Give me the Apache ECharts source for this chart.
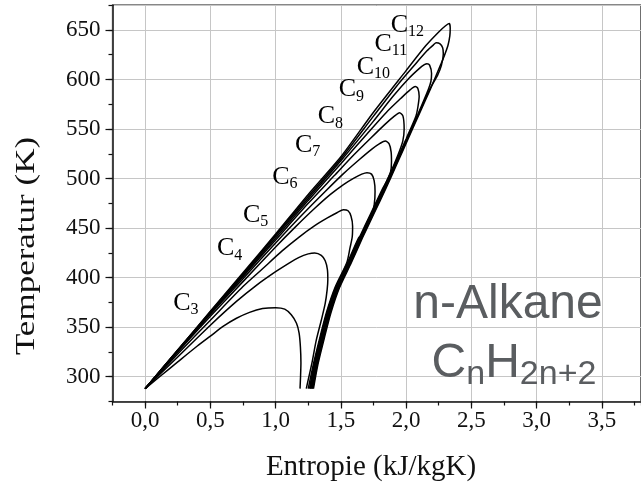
<!DOCTYPE html>
<html>
<head>
<meta charset="utf-8">
<title>n-Alkane T-s Diagramm</title>
<script src="https://cdn.jsdelivr.net/npm/echarts@6/dist/echarts.min.js"></script>
<style>
  html, body { margin: 0; padding: 0; background: #fff; }
  #chart { width: 641px; height: 489px; }
</style>
</head>
<body>
<div id="chart"></div>
<script>
// Nassdampfgebiet je Alkan: [Entropie kJ/kgK, Temperatur K]
// erst Siedelinie hoch bis zum kritischen Punkt, dann Taulinie wieder runter
var c3 = [[0, 288], [0.12, 301], [0.25, 315], [0.4, 331], [0.5, 341], [0.6, 351], [0.7, 359], [0.8, 365], [0.9, 368.8], [1.0, 369.7],
  [1.07, 368.2], [1.12, 362.5], [1.16, 354], [1.18, 344], [1.19, 330], [1.194, 314], [1.191, 300], [1.187, 288]];
var c4 = [[0, 288], [0.25, 320], [0.5, 352], [0.7, 376], [0.85, 392], [1.0, 406], [1.1, 414.5], [1.18, 420.5], [1.25, 424], [1.3, 425],
  [1.35, 422.5], [1.38, 417], [1.397, 408], [1.4, 398], [1.395, 388], [1.38, 374], [1.35, 357], [1.31, 336], [1.28, 315], [1.255, 300], [1.235, 288]];
var c5 = [[0, 288], [0.25, 323], [0.5, 357], [0.75, 391], [0.9, 409], [1.05, 427], [1.18, 441], [1.3, 452.5], [1.4, 460.5], [1.47, 465.5], [1.52, 468.5],
  [1.555, 467.5], [1.578, 462], [1.59, 452], [1.587, 441], [1.57, 430], [1.545, 415], [1.455, 390], [1.39, 365], [1.34, 340], [1.29, 313], [1.25, 288]];
var c6 = [[0, 288], [0.25, 325], [0.5, 361], [0.75, 396], [1.0, 431], [1.15, 451], [1.3, 470], [1.42, 484], [1.52, 494], [1.6, 500.5], [1.66, 504.5], [1.7, 506],
  [1.735, 504.5], [1.755, 498], [1.762, 487], [1.756, 474], [1.735, 462], [1.7, 452], [1.66, 443], [1.635, 440], [1.55, 415], [1.46, 390], [1.395, 365], [1.345, 340], [1.295, 313], [1.26, 288]];
var c7 = [[0, 288], [0.25, 325.5], [0.5, 363], [0.75, 399], [1.0, 435], [1.2, 463], [1.38, 487], [1.52, 505], [1.64, 519], [1.74, 530], [1.8, 535.5], [1.84, 538],
  [1.87, 535], [1.885, 527], [1.888, 517], [1.88, 506], [1.85, 497], [1.82, 490], [1.73, 465], [1.64, 440], [1.555, 415], [1.465, 390], [1.4, 365], [1.35, 340], [1.3, 313], [1.265, 288]];
var c8 = [[0, 288], [0.25, 326], [0.5, 364], [0.75, 401], [1.0, 438], [1.25, 475], [1.45, 503], [1.6, 524], [1.73, 541], [1.84, 555], [1.91, 563], [1.95, 566.5],
  [1.976, 563], [1.985, 550], [1.975, 538], [1.95, 528], [1.91, 515], [1.825, 490], [1.735, 465], [1.645, 440], [1.56, 415], [1.47, 390], [1.405, 365], [1.355, 340], [1.305, 313], [1.27, 288]];
var c9 = [[0, 288], [0.25, 326.5], [0.5, 364.5], [0.75, 402], [1.0, 440], [1.25, 478], [1.5, 515], [1.7, 545], [1.85, 567], [1.96, 581], [2.03, 589.5], [2.07, 593],
  [2.09, 591], [2.1, 583], [2.09, 572], [2.075, 563], [2.0, 540], [1.915, 515], [1.83, 490], [1.74, 465], [1.65, 440], [1.565, 415], [1.475, 390], [1.41, 365], [1.36, 340], [1.31, 313], [1.275, 288]];
var c10 = [[0, 288], [0.25, 326.5], [0.5, 365], [0.75, 403], [1.0, 442], [1.25, 480], [1.5, 518], [1.75, 558], [1.9, 583], [2.02, 601], [2.1, 611], [2.14, 615], [2.16, 616],
  [2.18, 614.5], [2.195, 606], [2.19, 598], [2.17, 590], [2.09, 565], [2.005, 540], [1.92, 515], [1.835, 490], [1.745, 465], [1.655, 440], [1.57, 415], [1.48, 390], [1.415, 365], [1.365, 340], [1.315, 313], [1.28, 288]];
var c11 = [[0, 288], [0.25, 327], [0.5, 365.5], [0.75, 404], [1.0, 443], [1.25, 482], [1.5, 520], [1.75, 563], [1.95, 597], [2.08, 617], [2.16, 629], [2.21, 635], [2.23, 637],
  [2.26, 636], [2.28, 632], [2.285, 626], [2.27, 614], [2.24, 604], [2.18, 590], [2.095, 565], [2.01, 540], [1.925, 515], [1.84, 490], [1.75, 465], [1.66, 440], [1.575, 415], [1.485, 390], [1.42, 365], [1.37, 340], [1.32, 313], [1.285, 288]];
var c12 = [[0, 288], [0.25, 327], [0.5, 366], [0.75, 405], [1.0, 444], [1.25, 484], [1.5, 522], [1.75, 567], [2.0, 609], [2.15, 634], [2.25, 648], [2.3, 654], [2.33, 656.5],
  [2.338, 652], [2.335, 644], [2.32, 634], [2.29, 623], [2.265, 615], [2.185, 590], [2.1, 565], [2.015, 540], [1.93, 515], [1.845, 490], [1.755, 465], [1.665, 440], [1.58, 415], [1.49, 390], [1.425, 365], [1.375, 340], [1.325, 313], [1.29, 288]];

var domes = [c3, c4, c5, c6, c7, c8, c9, c10, c11, c12];

// Beschriftung C_n, Lage in Diagrammkoordinaten (linke Kante vom "C")
var labelSub = ['3', '4', '5', '6', '7', '8', '9', '10', '11', '12'];
var labelS = [0.215, 0.551, 0.750, 0.974, 1.148, 1.322, 1.484, 1.621, 1.757, 1.882];
var labelT = [374.7, 429.6, 463.2, 501.9, 533.9, 562.5, 590.1, 612.9, 635.9, 655.1];

var serif = 'Liberation Serif, Times New Roman, serif';
var sans = 'Liberation Sans, Arial, sans-serif';

var chart = echarts.init(document.getElementById('chart'));

var series = domes.map(function (d, i) {
  return {
    name: 'C' + labelSub[i],
    type: 'line',
    data: d,
    smooth: 0.25,
    symbol: 'none',
    silent: true,
    lineStyle: { color: '#000', width: 1.5 },
    z: 3
  };
});

series.push({
  type: 'scatter',
  symbolSize: 0,
  silent: true,
  itemStyle: { opacity: 1, color: '#000' },
  data: labelS.map(function (s, i) { return [s, labelT[i], labelSub[i]]; }),
  label: {
    show: true,
    position: 'inside',
    align: 'left',
    verticalAlign: 'middle',
    color: '#000',
    opacity: 1,
    textBorderWidth: 0,
    formatter: function (p) { return '{c|C}{s|' + p.value[2] + '}'; },
    rich: {
      c: { fontFamily: serif, fontSize: 26, lineHeight: 30, color: '#000', textBorderWidth: 0 },
      s: { fontFamily: serif, fontSize: 16, lineHeight: 8, verticalAlign: 'bottom', color: '#000', textBorderWidth: 0 }
    }
  },
  z: 4
});

chart.setOption({
  animation: false,
  backgroundColor: '#fff',
  grid: {
    left: 112.5, top: 5.2, right: -14.2, bottom: 87.5,
    show: true, borderColor: '#111', borderWidth: 1.2
  },
  xAxis: [{
    type: 'value',
    min: -0.25,
    max: 3.8,
    splitNumber: 8,
    axisLine: { show: true, onZero: false, lineStyle: { color: '#111', width: 1.5 } },
    axisTick: { show: true, length: 7, lineStyle: { color: '#111', width: 1.2 } },
    axisLabel: {
      showMinLabel: false, showMaxLabel: false, margin: 8,
      fontFamily: serif, fontSize: 23, color: '#111',
      formatter: function (v) { return v.toFixed(1).replace('.', ','); }
    },
    splitLine: { show: true, lineStyle: { color: '#c6c6c6', width: 1 } }
  }, {
    // nur die kleinen Zwischenstriche
    type: 'value', position: 'bottom',
    min: -0.25, max: 3.8, interval: 0.25,
    axisLine: { show: false, onZero: false },
    axisTick: { show: true, length: 4, lineStyle: { color: '#111', width: 1.2 } },
    axisLabel: { show: false },
    splitLine: { show: false }
  }],
  yAxis: [{
    type: 'value',
    min: 275,
    max: 675,
    splitNumber: 8,
    axisLine: { show: true, onZero: false, lineStyle: { color: '#111', width: 1.5 } },
    axisTick: { show: true, length: 7, lineStyle: { color: '#111', width: 1.2 } },
    axisLabel: {
      showMinLabel: false, showMaxLabel: false, margin: 12,
      fontFamily: serif, fontSize: 23, color: '#111'
    },
    splitLine: { show: true, lineStyle: { color: '#c6c6c6', width: 1 } }
  }, {
    type: 'value', position: 'left',
    min: 275, max: 675, interval: 25,
    axisLine: { show: false, onZero: false },
    axisTick: { show: true, length: 4, lineStyle: { color: '#111', width: 1.2 } },
    axisLabel: { show: false },
    splitLine: { show: false }
  }],
  graphic: [
    {
      type: 'text', x: 371, y: 467, z: 10,
      style: { text: 'Entropie (kJ/kgK)', fontFamily: serif, fontSize: 29, fill: '#111', align: 'center', verticalAlign: 'middle' }
    },
    {
      type: 'text', x: 27, y: 246, rotation: Math.PI / 2, scaleX: 1.25, z: 10,
      style: { text: 'Temperatur (K)', fontFamily: serif, fontSize: 28, fill: '#111', align: 'center', verticalAlign: 'middle' }
    },
    {
      type: 'text', x: 508, y: 305, z: 10,
      style: { text: 'n-Alkane', fontFamily: sans, fontSize: 48, fill: '#5a5d60', align: 'center', verticalAlign: 'middle' }
    },
    {
      type: 'text', x: 514, y: 364, z: 10,
      style: {
        text: '{a|C}{b|n}{a|H}{b|2n+2}',
        align: 'center', verticalAlign: 'middle',
        rich: {
          a: { fontFamily: sans, fontSize: 48, lineHeight: 56, fill: '#5a5d60' },
          b: { fontFamily: sans, fontSize: 34, lineHeight: 36, verticalAlign: 'bottom', fill: '#5a5d60' }
        }
      }
    }
  ],
  series: series
});
</script>
</body>
</html>
